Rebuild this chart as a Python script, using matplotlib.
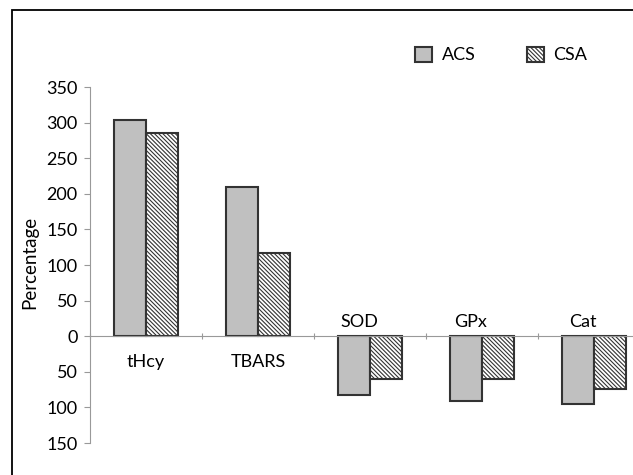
import numpy as np
import matplotlib
matplotlib.use("Agg")
import matplotlib.pyplot as plt
from matplotlib.patches import Rectangle

plt.rcParams['font.family'] = ['Lato', 'DejaVu Sans']
plt.rcParams['hatch.linewidth'] = 0.8

categories = ['tHcy', 'TBARS', 'SOD', 'GPx', 'Cat']
acs = [303, 210, -83, -91, -95]
csa = [285, 117, -60, -60, -74]
series_names = ['ACS', 'CSA']
yticks = [-150, -100, -50, 0, 50, 100, 150, 200, 250, 300, 350]

W, H = 633, 475
fig = plt.figure(figsize=(W / 100, H / 100), dpi=100)
# axes runs off the right edge, like the cropped original
ax = fig.add_axes([90 / W, 1 - 443 / H, 560 / W, (443 - 87) / H])

x = np.arange(len(categories))
w = 0.286
edge = '#333333'
ax.bar(x - w / 2, acs, w, color='#c0c0c0', edgecolor=edge, linewidth=1.5, label=series_names[0])
ax.bar(x + w / 2, csa, w, color='white', edgecolor=edge, linewidth=1.5, hatch='\\' * 8, label=series_names[1])

ax.set_xlim(-0.5, len(categories) - 0.5)
ax.set_ylim(-150, 350)

for s in ['top', 'right']:
    ax.spines[s].set_visible(False)
ax.spines['bottom'].set_position(('data', 0))
ax.spines['bottom'].set_color('#999999')
ax.spines['left'].set_color('#999999')

ax.set_yticks(yticks)
ax.set_yticklabels([str(abs(v)) for v in yticks], fontsize=13)
ax.tick_params(axis='y', length=4, color='#999999', pad=5)
ax.set_xticks(np.arange(len(categories) + 1) - 0.5)
ax.set_xticklabels([])
ax.tick_params(axis='x', length=4, direction='inout', color='#999999')

for i, (c, v) in enumerate(zip(categories, acs)):
    if v >= 0:
        ax.annotate(c, (i, 0), xytext=(0, -26), textcoords='offset pixels',
                    ha='center', va='center', fontsize=13)
    else:
        ax.annotate(c, (i, 0), xytext=(-11, 14), textcoords='offset pixels',
                    ha='center', va='center', fontsize=13)

fig.text(29.5 / W, 1 - 262 / H, 'Percentage', rotation=90, ha='center', va='center', fontsize=13.5)

ax.legend(loc='center left', bbox_to_anchor=(415 / W, 1 - 55 / H), bbox_transform=fig.transFigure,
          ncol=2, frameon=False, fontsize=13, borderpad=0, borderaxespad=0,
          handlelength=0.95, handleheight=0.95, handletextpad=0.55, columnspacing=2.8)

fig.patches.append(Rectangle((11.5 / W, -0.1), 1.2, 1.1 - 10.5 / H, transform=fig.transFigure,
                             fill=False, edgecolor='black', linewidth=1.3))

fig.savefig('out.png', dpi=100)
